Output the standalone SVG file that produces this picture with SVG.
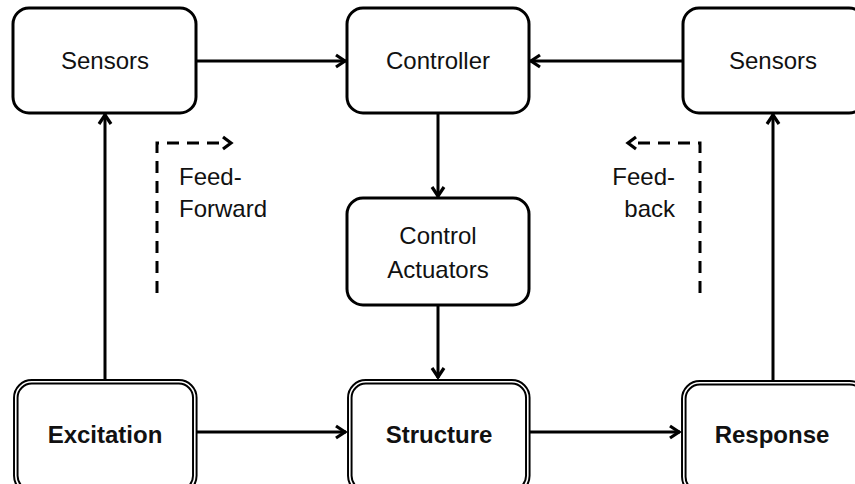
<svg xmlns="http://www.w3.org/2000/svg" width="855" height="484" viewBox="0 0 855 484">
<defs>
<style>
.box{fill:#fff;stroke:#000;stroke-width:3}
.dbl{fill:#fff;stroke:#000;stroke-width:5.5}
.dblin{fill:none;stroke:#fff;stroke-width:1.6}
.lbl{font-family:"Liberation Sans",Arial,sans-serif;font-size:24px;fill:#111;text-anchor:middle}
.b{font-weight:bold}
.side{font-family:"Liberation Sans",Arial,sans-serif;font-size:24px;fill:#111}
.con{stroke:#000;stroke-width:3;fill:none;marker-end:url(#arr)}
.dash{stroke:#000;stroke-width:3;fill:none;stroke-dasharray:12 8}
</style>
<marker id="arr" markerUnits="userSpaceOnUse" markerWidth="20" markerHeight="20" viewBox="-14 -10 20 20" refX="0" refY="0" orient="auto" overflow="visible">
<path d="M-10,-6 L-1,0 L-10,6" fill="none" stroke="#000" stroke-width="3.2"/>
</marker>
</defs>
<rect width="855" height="484" fill="#fff"/>
<g id="connectors">
<line class="con" x1="196" y1="61" x2="346" y2="61"/>
<line class="con" x1="683" y1="61" x2="530" y2="61"/>
<line class="con" x1="438" y1="113" x2="438" y2="197"/>
<line class="con" x1="438" y1="305" x2="438" y2="378"/>
<line class="con" x1="105" y1="379" x2="105" y2="114"/>
<line class="con" x1="773" y1="380" x2="773" y2="114"/>
<line class="con" x1="197" y1="432" x2="346" y2="432"/>
<line class="con" x1="530" y1="432" x2="680" y2="432"/>
<path class="dash" d="M157,293 L157,143 L226,143"/>
<path d="M223,137 L231,143 L223,149" fill="none" stroke="#000" stroke-width="3.2"/>
<path class="dash" d="M700,293 L700,143 L633,143"/>
<path d="M636,137 L628,143 L636,149" fill="none" stroke="#000" stroke-width="3.2"/>
</g>
<g id="sensors-left">
<rect class="box" x="13" y="8" width="183" height="105" rx="16"/>
<text class="lbl" x="105" y="69">Sensors</text>
</g>
<g id="controller">
<rect class="box" x="347" y="8" width="182" height="105" rx="16"/>
<text class="lbl" x="438" y="69">Controller</text>
</g>
<g id="sensors-right">
<rect class="box" x="683" y="8" width="182" height="105" rx="16"/>
<text class="lbl" x="773" y="69">Sensors</text>
</g>
<g id="actuators">
<rect class="box" x="347" y="198" width="182" height="107" rx="16"/>
<text class="lbl" x="438" y="244">Control</text>
<text class="lbl" x="438" y="278">Actuators</text>
</g>
<g id="excitation">
<rect class="dbl" x="15.8" y="381.8" width="179" height="110" rx="16"/>
<rect class="dblin" x="15.8" y="381.8" width="179" height="110" rx="16"/>
<text class="lbl b" x="105" y="443">Excitation</text>
</g>
<g id="structure">
<rect class="dbl" x="349.8" y="381.8" width="178" height="110" rx="16"/>
<rect class="dblin" x="349.8" y="381.8" width="178" height="110" rx="16"/>
<text class="lbl b" x="439" y="443">Structure</text>
</g>
<g id="response">
<rect class="dbl" x="683.8" y="382.8" width="182" height="110" rx="16"/>
<rect class="dblin" x="683.8" y="382.8" width="182" height="110" rx="16"/>
<text class="lbl b" x="772" y="443">Response</text>
</g>
<g id="feedforward-label">
<text class="side" x="179" y="185">Feed-</text>
<text class="side" x="179" y="217">Forward</text>
</g>
<g id="feedback-label">
<text class="side" x="675" y="185" text-anchor="end">Feed-</text>
<text class="side" x="675" y="217" text-anchor="end">back</text>
</g>
</svg>
